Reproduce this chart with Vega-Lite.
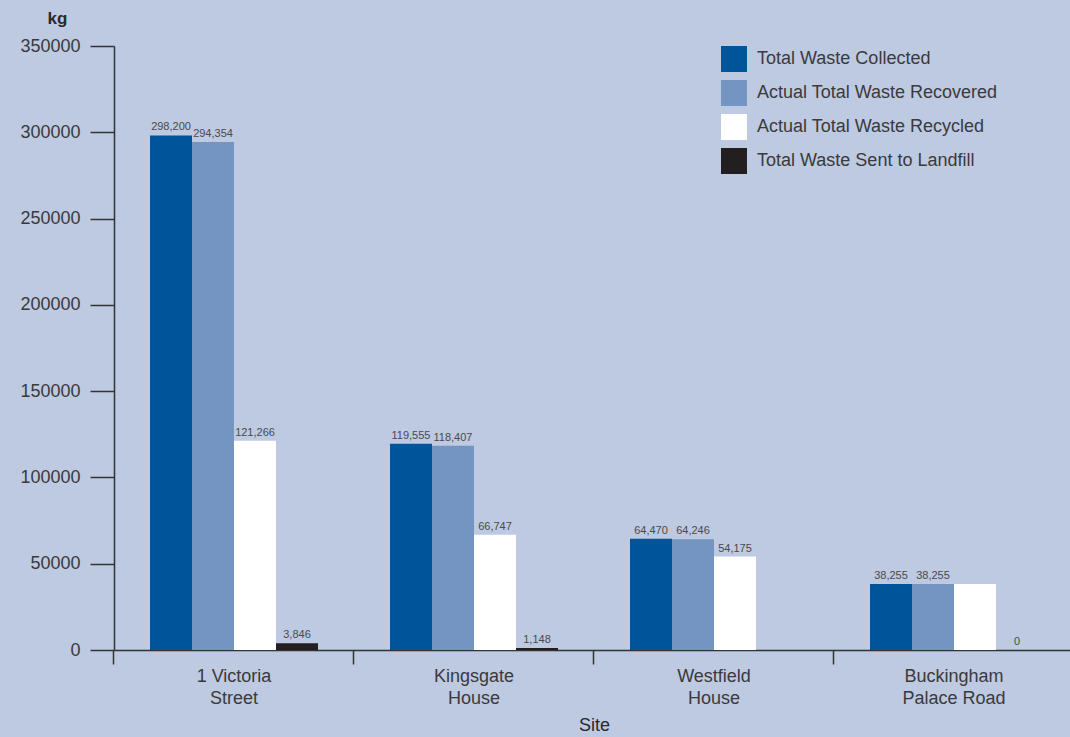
{
  "$schema": "https://vega.github.io/schema/vega-lite/v6.json",
  "width": 960,
  "height": 604,
  "autosize": {"type": "none"},
  "padding": {"left": 114, "top": 46, "right": 0, "bottom": 87},
  "background": "#bec9e2",
  "config": {
    "view": {"stroke": null},
    "font": "Liberation Sans",
    "axis": {"domainColor": "#333333", "tickColor": "#333333", "domainWidth": 1.5, "tickWidth": 1.5, "labelColor": "#3a3a3a", "titleColor": "#2a2a2a", "grid": false}
  },
  "data": {
    "values": [
      {"site": "1 Victoria\nStreet", "measure": "Total Waste Collected", "kg": 298200, "labeled": true},
      {"site": "1 Victoria\nStreet", "measure": "Actual Total Waste Recovered", "kg": 294354, "labeled": true},
      {"site": "1 Victoria\nStreet", "measure": "Actual Total Waste Recycled", "kg": 121266, "labeled": true},
      {"site": "1 Victoria\nStreet", "measure": "Total Waste Sent to Landfill", "kg": 3846, "labeled": true},
      {"site": "Kingsgate\nHouse", "measure": "Total Waste Collected", "kg": 119555, "labeled": true},
      {"site": "Kingsgate\nHouse", "measure": "Actual Total Waste Recovered", "kg": 118407, "labeled": true},
      {"site": "Kingsgate\nHouse", "measure": "Actual Total Waste Recycled", "kg": 66747, "labeled": true},
      {"site": "Kingsgate\nHouse", "measure": "Total Waste Sent to Landfill", "kg": 1148, "labeled": true},
      {"site": "Westfield\nHouse", "measure": "Total Waste Collected", "kg": 64470, "labeled": true},
      {"site": "Westfield\nHouse", "measure": "Actual Total Waste Recovered", "kg": 64246, "labeled": true},
      {"site": "Westfield\nHouse", "measure": "Actual Total Waste Recycled", "kg": 54175, "labeled": true},
      {"site": "Buckingham\nPalace Road", "measure": "Total Waste Collected", "kg": 38255, "labeled": true},
      {"site": "Buckingham\nPalace Road", "measure": "Actual Total Waste Recovered", "kg": 38255, "labeled": true},
      {"site": "Buckingham\nPalace Road", "measure": "Actual Total Waste Recycled", "kg": 38255, "labeled": false},
      {"site": "Buckingham\nPalace Road", "measure": "Total Waste Sent to Landfill", "kg": 0, "labeled": true}
    ]
  },
  "encoding": {
    "x": {
      "field": "site",
      "type": "nominal",
      "sort": ["1 Victoria\nStreet", "Kingsgate\nHouse", "Westfield\nHouse", "Buckingham\nPalace Road"],
      "scale": {"paddingInner": 0.3, "paddingOuter": 0.15},
      "axis": {
        "title": "Site",
        "labelExpr": "split(datum.label, '\\n')",
        "labelAngle": 0,
        "labelFontSize": 18,
        "labelLineHeight": 22,
        "labelPadding": 3,
        "labelBaseline": "top",
        "bandPosition": -0.2143,
        "tickSize": 14,
        "titleFontSize": 18,
        "titleFontWeight": "normal",
        "titleY": 75,
        "titleBaseline": "middle"
      }
    },
    "xOffset": {
      "field": "measure",
      "type": "nominal",
      "sort": ["Total Waste Collected", "Actual Total Waste Recovered", "Actual Total Waste Recycled", "Total Waste Sent to Landfill"],
      "scale": {"paddingInner": 0, "paddingOuter": 0}
    },
    "y": {
      "field": "kg",
      "type": "quantitative",
      "scale": {"domain": [0, 350000], "nice": false},
      "axis": {
        "title": "kg",
        "values": [0, 50000, 100000, 150000, 200000, 250000, 300000, 350000],
        "format": "d",
        "tickSize": 24,
        "labelPadding": 10,
        "labelFontSize": 18,
        "titleAngle": 0,
        "titleX": -57,
        "titleY": -28,
        "titleAlign": "center",
        "titleBaseline": "middle",
        "titleFontSize": 17,
        "titleFontWeight": "bold"
      }
    }
  },
  "layer": [
    {
      "mark": {"type": "bar"},
      "encoding": {
        "color": {
          "field": "measure",
          "type": "nominal",
          "scale": {
            "domain": ["Total Waste Collected", "Actual Total Waste Recovered", "Actual Total Waste Recycled", "Total Waste Sent to Landfill"],
            "range": ["#00559a", "#7494c2", "#ffffff", "#231f20"]
          },
          "legend": {
            "title": null,
            "orient": "none",
            "legendX": 607,
            "legendY": 0,
            "padding": 0,
            "symbolType": "square",
            "symbolSize": 676,
            "symbolStrokeWidth": 0,
            "symbolOpacity": 1,
            "labelFontSize": 18,
            "labelLimit": 400,
            "labelColor": "#3a3a3a",
            "labelOffset": 10,
            "rowPadding": 8
          }
        }
      }
    },
    {
      "transform": [{"filter": "datum.labeled"}],
      "mark": {"type": "text", "baseline": "bottom", "dy": -3, "fontSize": 11, "color": "#4a4a4a"},
      "encoding": {"text": {"field": "kg", "type": "quantitative", "format": ","}}
    }
  ]
}
